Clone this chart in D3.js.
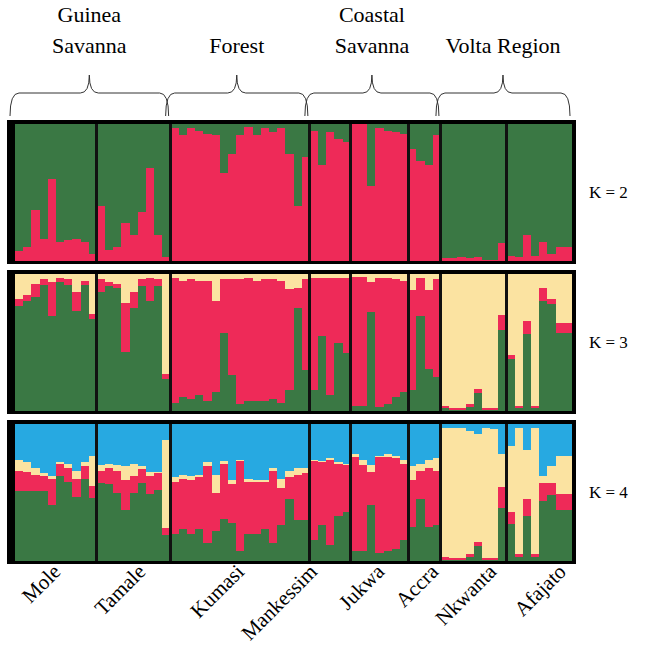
<!DOCTYPE html>
<html>
<head>
<meta charset="utf-8">
<script src="https://cdn.jsdelivr.net/npm/d3@7"></script>
<style>
  body { margin: 0; background: #fff; }
  svg { display: block; }
</style>
</head>
<body>
<div id="chart"></div>
<script>
const populations = ["Mole", "Tamale", "Kumasi", "Mankessim", "Jukwa", "Accra", "Nkwanta", "Afajato"];
const popSizes = [10, 9, 17, 5, 7, 4, 8, 8];
const regions = [
  {name: ["Guinea", "Savanna"], from: 0, to: 1},
  {name: ["Forest"], from: 2, to: 2},
  {name: ["Coastal", "Savanna"], from: 3, to: 5},
  {name: ["Volta Region"], from: 6, to: 7}
];
const kLabels = ["K = 2", "K = 3", "K = 4"];

// K = 2 : red share (green is the rest)
const k2Red = [
  0.07, 0.10, 0.37, 0.16, 0.60, 0.14, 0.15, 0.16, 0.14, 0.05,
  0.40, 0.08, 0.10, 0.28, 0.19, 0.36, 0.68, 0.19, 0.03,
  0.97, 0.92, 0.97, 0.95, 0.93, 0.92, 0.64, 0.78, 0.92, 0.98, 0.92, 0.97, 0.94, 0.97, 0.78, 0.40, 0.76,
  0.95, 0.70, 0.94, 0.89, 0.87,
  1.00, 1.00, 0.55, 0.97, 0.95, 0.94, 0.93,
  0.82, 0.73, 0.70, 0.92,
  0.02, 0.02, 0.03, 0.02, 0.03, 0.01, 0.01, 0.13,
  0.04, 0.03, 0.19, 0.04, 0.14, 0.05, 0.10, 0.10
];

// K = 3 : green, red (pale is the rest)
const k3Green = [
  0.77, 0.80, 0.83, 0.92, 0.69, 0.94, 0.92, 0.73, 0.92, 0.67,
  0.87, 0.91, 0.90, 0.43, 0.75, 0.91, 0.80, 0.91, 0.23,
  0.06, 0.10, 0.09, 0.12, 0.07, 0.14, 0.57, 0.26, 0.05, 0.07, 0.07, 0.07, 0.09, 0.06, 0.15, 0.75, 0.30,
  0.15, 0.55, 0.12, 0.50, 0.42,
  0.04, 0.04, 0.72, 0.03, 0.05, 0.10, 0.14,
  0.15, 0.69, 0.31, 0.25,
  0.02, 0.01, 0.01, 0.03, 0.13, 0.01, 0.01, 0.59,
  0.38, 0.02, 0.56, 0.02, 0.80, 0.78, 0.57, 0.57
];
const k3Red = [
  0.05, 0.05, 0.10, 0.04, 0.25, 0.03, 0.04, 0.14, 0.03, 0.04,
  0.09, 0.03, 0.03, 0.36, 0.12, 0.05, 0.17, 0.05, 0.04,
  0.91, 0.85, 0.87, 0.83, 0.88, 0.66, 0.39, 0.70, 0.91, 0.90, 0.88, 0.89, 0.87, 0.89, 0.74, 0.15, 0.66,
  0.82, 0.42, 0.85, 0.47, 0.55,
  0.94, 0.94, 0.22, 0.94, 0.92, 0.86, 0.81,
  0.73, 0.28, 0.57, 0.71,
  0.02, 0.01, 0.01, 0.02, 0.03, 0.01, 0.01, 0.11,
  0.03, 0.02, 0.10, 0.02, 0.10, 0.04, 0.07, 0.07
];

// K = 4 : green, red, pale (blue is the rest)
const k4Green = [
  0.51, 0.51, 0.51, 0.51, 0.41, 0.62, 0.58, 0.47, 0.60, 0.46,
  0.57, 0.56, 0.50, 0.37, 0.50, 0.57, 0.49, 0.52, 0.19,
  0.20, 0.23, 0.20, 0.23, 0.13, 0.22, 0.31, 0.28, 0.07, 0.20, 0.20, 0.23, 0.13, 0.26, 0.45, 0.30, 0.30,
  0.15, 0.26, 0.12, 0.33, 0.36,
  0.07, 0.07, 0.41, 0.06, 0.07, 0.09, 0.15,
  0.25, 0.45, 0.25, 0.26,
  0.01, 0.01, 0.01, 0.03, 0.11, 0.01, 0.01, 0.39,
  0.27, 0.03, 0.33, 0.03, 0.44, 0.48, 0.37, 0.37
];
const k4Red = [
  0.15, 0.14, 0.12, 0.11, 0.19, 0.09, 0.10, 0.13, 0.09, 0.09,
  0.09, 0.12, 0.16, 0.22, 0.12, 0.10, 0.13, 0.12, 0.05,
  0.38, 0.37, 0.39, 0.38, 0.56, 0.28, 0.40, 0.28, 0.66, 0.38, 0.38, 0.35, 0.53, 0.27, 0.16, 0.33, 0.34,
  0.58, 0.46, 0.62, 0.38, 0.34,
  0.69, 0.63, 0.24, 0.70, 0.69, 0.66, 0.56,
  0.34, 0.21, 0.43, 0.40,
  0.02, 0.01, 0.01, 0.02, 0.03, 0.01, 0.01, 0.15,
  0.09, 0.02, 0.12, 0.02, 0.13, 0.09, 0.12, 0.12
];
const k4Pale = [
  0.08, 0.07, 0.05, 0.02, 0.02, 0.01, 0.03, 0.06, 0.03, 0.22,
  0.04, 0.03, 0.04, 0.10, 0.09, 0.02, 0.03, 0.01, 0.64,
  0.03, 0.03, 0.03, 0.02, 0.03, 0.13, 0.02, 0.03, 0.01, 0.02, 0.01, 0.01, 0.02, 0.07, 0.05, 0.05, 0.04,
  0.01, 0.01, 0.01, 0.01, 0.01,
  0.02, 0.04, 0.05, 0.01, 0.02, 0.02, 0.03,
  0.10, 0.05, 0.06, 0.09,
  0.94, 0.95, 0.95, 0.90, 0.79, 0.95, 0.94, 0.24,
  0.48, 0.92, 0.36, 0.92, 0.05, 0.12, 0.28, 0.28
];

const colours = {green: "#3a7844", red: "#ee2a58", pale: "#fbe3a1", blue: "#27a9e1"};
// horizontal nudge of each rotated population label from its group centre
const labelShift = [6, 13, 5, -12, 6, 15, 24, 28];

const n = k2Red.length;
const k2Rows = d3.range(n).map(i => ({red: k2Red[i], green: 1 - k2Red[i]}));
const k3Rows = d3.range(n).map(i => ({green: k3Green[i], red: k3Red[i], pale: Math.max(0, 1 - k3Green[i] - k3Red[i])}));
const k4Rows = d3.range(n).map(i => ({green: k4Green[i], red: k4Red[i], pale: k4Pale[i],
  blue: Math.max(0, 1 - k4Green[i] - k4Red[i] - k4Pale[i])}));

const panels = [
  {rows: k2Rows, keys: ["red", "green"], top: 124},
  {rows: k3Rows, keys: ["green", "red", "pale"], top: 274},
  {rows: k4Rows, keys: ["green", "red", "pale", "blue"], top: 424}
];
const panelHeight = 137;

const width = 656, height = 671;
const svg = d3.select("#chart").append("svg").attr("width", width).attr("height", height);

const x = d3.scaleBand().domain(d3.range(n)).range([15, 572]).padding(0);

// population boundaries in individual index
const starts = [];
let acc = 0;
popSizes.forEach(s => { starts.push(acc); acc += s; });
const popX0 = i => x(starts[i]);
const popX1 = i => i === popSizes.length - 1 ? x.range()[1] : x(starts[i + 1]);

panels.forEach((p, pi) => {
  const y = d3.scaleLinear().domain([0, 1]).range([p.top + panelHeight, p.top]);
  const g = svg.append("g").attr("shape-rendering", "crispEdges");

  // black frame
  g.append("rect")
    .attr("x", 7).attr("y", p.top - 4)
    .attr("width", 576 - 7).attr("height", panelHeight + 7)
    .attr("fill", "#000");

  // stacked layers as stepped areas (no seams between neighbours)
  const series = d3.stack().keys(p.keys)(p.rows);
  const area = d3.area()
    .curve(d3.curveStepAfter)
    .x(d => d.x)
    .y0(d => y(d.v[0]))
    .y1(d => y(Math.min(1, d.v[1])));
  g.selectAll("path.layer").data(series).enter().append("path")
    .attr("class", "layer")
    .attr("fill", d => colours[d.key])
    .attr("d", d => {
      const pts = d.map((v, i) => ({x: x(i), v}));
      pts.push({x: x.range()[1], v: d[d.length - 1]});
      return area(pts);
    });

  // separators between populations
  g.selectAll("rect.sep").data(starts.slice(1)).enter().append("rect")
    .attr("class", "sep")
    .attr("x", d => x(d) - 1.5).attr("width", 3)
    .attr("y", p.top).attr("height", panelHeight)
    .attr("fill", "#111");

  svg.append("text")
    .attr("x", 589).attr("y", p.top + panelHeight / 2 + 5)
    .attr("font-family", "Liberation Serif, serif")
    .attr("font-size", 17)
    .text(kLabels[pi]);
});

// braces with region names
function brace(x0, x1, yBottom, yMid, yTip) {
  const xm = (x0 + x1) / 2, q = 9;
  const path = d3.path();
  path.moveTo(x0, yBottom);
  path.quadraticCurveTo(x0, yMid, x0 + q, yMid);
  path.lineTo(xm - q, yMid);
  path.quadraticCurveTo(xm, yMid, xm, yTip);
  path.quadraticCurveTo(xm, yMid, xm + q, yMid);
  path.lineTo(x1 - q, yMid);
  path.quadraticCurveTo(x1, yMid, x1, yBottom);
  return path.toString();
}

regions.forEach(r => {
  const x0 = popX0(r.from) - 5, x1 = popX1(r.to) - 2;
  svg.append("path")
    .attr("d", brace(x0, x1, 116, 93, 75))
    .attr("fill", "none").attr("stroke", "#333").attr("stroke-width", 1);
  const xm = (x0 + x1) / 2;
  const t = svg.append("text")
    .attr("x", xm).attr("text-anchor", "middle")
    .attr("font-family", "Liberation Serif, serif")
    .attr("font-size", 22);
  if (r.name.length === 2) {
    t.append("tspan").attr("x", xm).attr("y", 22).text(r.name[0]);
    t.append("tspan").attr("x", xm).attr("y", 53).text(r.name[1]);
  } else {
    t.attr("y", 53).text(r.name[0]);
  }
});

// population labels, rotated
populations.forEach((name, i) => {
  const cx = (popX0(i) + popX1(i)) / 2;
  svg.append("text")
    .attr("transform", `translate(${cx + labelShift[i]},${573}) rotate(-45)`)
    .attr("text-anchor", "end")
    .attr("font-family", "Liberation Serif, serif")
    .attr("font-size", 21)
    .text(name);
});
</script>
</body>
</html>
